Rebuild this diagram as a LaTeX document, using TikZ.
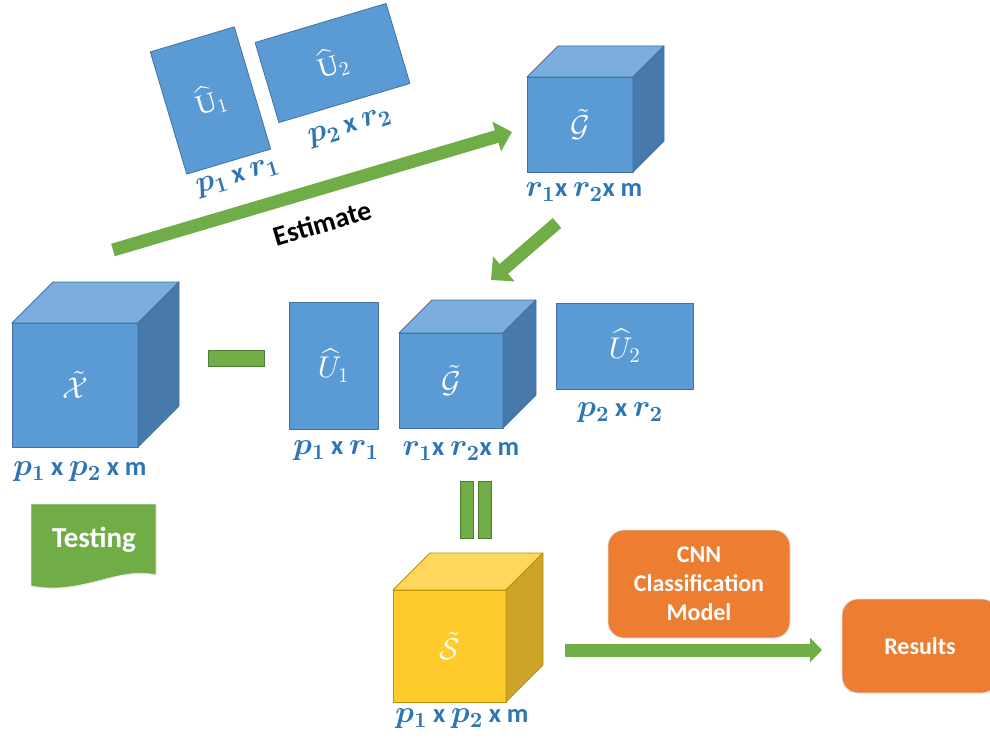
\documentclass[tikz,border=0pt]{standalone}
\usepackage{fontspec}
\setmainfont{Carlito}
\newfontfamily\seriffont{Liberation Serif}
\usetikzlibrary{arrows.meta,calc}

% scalable Computer Modern math at any size
\DeclareFontShape{OML}{cmm}{m}{it}{<->cmmi10}{}
\DeclareFontShape{OML}{cmm}{b}{it}{<->cmmib10}{}
\DeclareFontShape{OMS}{cmsy}{m}{n}{<->cmsy10}{}
\DeclareFontShape{OMS}{cmsy}{b}{n}{<->cmbsy10}{}
\DeclareFontShape{OMX}{cmex}{m}{n}{<->cmex10}{}
\DeclareFontShape{OT1}{cmr}{m}{n}{<->cmr10}{}
\DeclareFontShape{OT1}{cmr}{bx}{n}{<->cmbx10}{}

\definecolor{bluefront}{HTML}{5B9BD5}
\definecolor{bluetop}{HTML}{7BAEDE}
\definecolor{blueside}{HTML}{477AAB}
\definecolor{blueedge}{HTML}{41719C}
\definecolor{yelfront}{HTML}{FFCA2C}
\definecolor{yeltop}{HTML}{FFD75C}
\definecolor{yelside}{HTML}{CCA42A}
\definecolor{yeledge}{HTML}{BF9000}
\definecolor{dimblue}{HTML}{2E75B6}
\definecolor{leafgreen}{HTML}{70AD47}
\definecolor{leafedge}{HTML}{507E32}
\definecolor{boxorange}{HTML}{ED7D31}

\newcommand\dimfont{\fontsize{26.5}{30}\selectfont\bfseries\boldmath}
\newcommand\glyphfont{\fontsize{30}{36}\selectfont}
\newcommand\boxfont{\fontsize{24}{29}\selectfont\bfseries}
% dimension symbols are set a little larger than the words around them
\newcommand\dm[1]{{\fontsize{31}{36}\selectfont$#1$}}
\newcommand\uprU{\hbox{\seriffont U}}

% cube: name, centre x, centre y, width, height, depth, colour prefix, symbol
\newcommand\drawcube[8]{%
  \node[face, draw=#7edge, fill=#7front, minimum width=#4pt, minimum height=#5pt,
        text=white, font=\glyphfont] (#1) at (#2,#3) {#8};
  \draw[face, draw=#7edge, fill=#7top] (#1.north west) -- ++(#6,-#6) -- ++(#4,0)
        -- (#1.north east) -- cycle;
  \draw[face, draw=#7edge, fill=#7side] (#1.north east) -- ++(#6,-#6) -- ++(0,#5)
        -- (#1.south east) -- cycle;
}

\tikzset{
  face/.style={line width=0.8pt, line join=round, inner sep=0pt, outer sep=0pt},
  matrixbox/.style={face, draw=blueedge, fill=bluefront, text=white, font=\glyphfont},
  dimlabel/.style={text=dimblue, font=\dimfont, inner sep=0pt},
  bar/.style={draw=leafedge, line width=0.8pt, fill=leafgreen},
  block arrow/.style={draw=leafgreen, line width=13pt},
  orangebox/.style={draw=gray!25, line width=0.8pt, fill=boxorange, rounded corners=16pt,
        text=white, font=\boxfont, align=center, inner sep=0pt},
}

\begin{document}
\begin{tikzpicture}[x=1pt, y=-1pt]
\useasboundingbox (0,0) rectangle (990,738);

% factor matrices, tilted
\node[matrixbox, minimum width=87.6pt, minimum height=127.5pt, rotate=16.6,
      font=\fontsize{28}{32}\selectfont]
  (u1top) at (210.5,100.5) {$\widehat{\uprU}_1$};
\node[matrixbox, minimum width=136.7pt, minimum height=83.5pt, rotate=16.6,
      font=\fontsize{28}{32}\selectfont]
  (u2top) at (332.5,63) {$\widehat{\uprU}_2$};
\node[dimlabel, rotate=16.6] (u1toplab) at (238,178) {\dm{p_1} x \dm{r_1}};
\node[dimlabel, rotate=16.6] (u2toplab) at (350,128) {\dm{p_2} x \dm{r_2}};

% core tensor, top
\drawcube{gtop}{580}{124.5}{106}{95}{31}{blue}{$\tilde{\mathcal{G}}$}
\node[dimlabel] (gtoplab) at (584,192) {\dm{r_1}x \dm{r_2}x m};

% estimate arrow
\coordinate (estFrom) at (113,250);
\coordinate (estTo) at (512,132);
\draw[block arrow, -{Triangle[width=30pt,length=16pt]}] (estFrom) -- (estTo);
\node[rotate=16.5, font=\fontsize{28}{32}\selectfont\bfseries, inner sep=0pt]
  (estimate) at (322,223) {Estimate};

% arrow down to the reconstruction
\coordinate (downFrom) at (557,223);
\coordinate (downTo) at (491,280);
\draw[block arrow, -{Triangle[width=32pt,length=17pt]}] (downFrom) -- (downTo);

% data tensor
\drawcube{xcube}{75}{385}{126}{124}{41}{blue}{$\tilde{\mathcal{X}}$}
\node[dimlabel] (xlab) at (80,472) {\dm{p_1} x \dm{p_2} x m};

% minus sign
\node[bar, minimum width=56pt, minimum height=16pt, inner sep=0pt] (minus) at (236,358) {};

% reconstruction factors
\node[matrixbox, minimum width=89pt, minimum height=127pt] (u1mid) at (333.5,365.5)
  {$\widehat{U}_1$};
\node[dimlabel] (u1midlab) at (336,451) {\dm{p_1} x \dm{r_1}};
\drawcube{gmid}{451}{380.5}{104}{95}{33}{blue}{$\tilde{\mathcal{G}}$}
\node[dimlabel] (gmidlab) at (461,451) {\dm{r_1}x \dm{r_2}x m};
\node[matrixbox, minimum width=137pt, minimum height=86pt] (u2mid) at (624.5,346)
  {$\widehat{U}_2$};
\node[dimlabel] (u2midlab) at (620,413) {\dm{p_2} x \dm{r_2}};

% equals sign
\node[bar, minimum width=13pt, minimum height=57pt, inner sep=0pt] (eqa) at (466.5,509.5) {};
\node[bar, minimum width=13pt, minimum height=57pt, inner sep=0pt] (eqb) at (484.5,509.5) {};

% testing document
\fill[leafgreen, draw=gray!20, line width=0.8pt]
  (31,504) -- (156,504) -- (156,575)
  .. controls (118,566) and (82,596) .. (31,586) -- cycle;
\node[text=white, font=\fontsize{29}{34}\selectfont\bfseries] (testing) at (94,540) {Testing};

% residual tensor
\drawcube{scube}{449.5}{646}{113}{112}{37}{yel}{$\tilde{\mathcal{S}}$}
\node[dimlabel] (slab) at (462,719) {\dm{p_1} x \dm{p_2} x m};

% classifier
\node[orangebox, minimum width=182pt, minimum height=108pt] (cnn) at (699,584)
  {CNN\\Classification\\Model};
\node[orangebox, minimum width=156pt, minimum height=94pt] (results) at (920,646) {Results};
\coordinate (clsFrom) at (565,650);
\coordinate (clsTo) at (822,650);
\draw[block arrow, -{Triangle[width=24pt,length=12pt]}] (clsFrom) -- (clsTo);
\end{tikzpicture}
\end{document}
